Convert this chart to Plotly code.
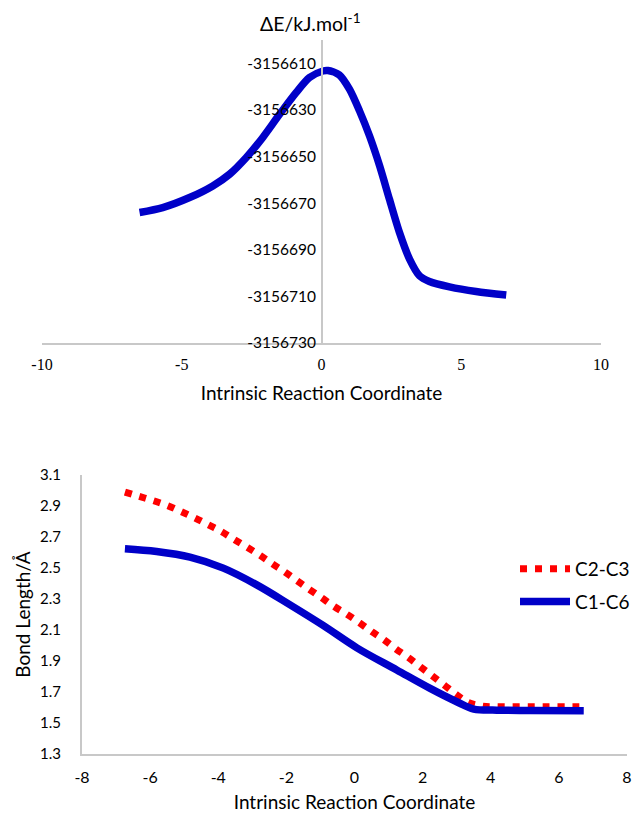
import plotly.graph_objects as go

# ---- Top chart: energy profile along IRC ----
irc_energy = [-6.51, -5.68, -4.72, -3.89, -3.29, -2.69, -2.10, -1.50, -0.91, -0.43, 0.05, 0.23, 0.64,
              1.0, 1.36, 1.72, 2.08, 2.43, 2.79, 3.15, 3.51, 3.86, 4.58, 5.53, 6.61]
energy = [-3156674.0, -3156671.9, -3156667.6, -3156662.6, -3156657.6, -3156650.4, -3156641.8,
          -3156631.9, -3156622.6, -3156616.1, -3156613.3, -3156613.1, -3156615.0, -3156621.1,
          -3156630.4, -3156641.2, -3156654.0, -3156668.3, -3156682.6, -3156694.0, -3156701.2,
          -3156703.6, -3156705.9, -3156707.9, -3156709.4]
energy_ticks = [-3156730, -3156710, -3156690, -3156670, -3156650, -3156630, -3156610]
top_x_ticks = [-10, -5, 0, 5, 10]

# ---- Bottom chart: bond lengths along IRC ----
irc_c2c3 = [-6.74, -6.32, -5.90, -5.48, -5.08, -4.68, -4.29, -3.90, -3.53, -3.14, -2.77, -2.41,
            -2.04, -1.68, -1.32, -0.96, -0.60, -0.22, 0.15, 0.51, 0.87, 1.22, 1.59, 1.93, 2.29,
            2.63, 2.98, 3.33, 3.76, 4.18, 5.3, 6.6]
c2c3 = [2.990, 2.962, 2.934, 2.902, 2.863, 2.822, 2.779, 2.734, 2.684, 2.632, 2.581, 2.527,
        2.473, 2.417, 2.361, 2.307, 2.252, 2.201, 2.146, 2.089, 2.036, 1.977, 1.921, 1.863,
        1.803, 1.745, 1.685, 1.633, 1.609, 1.605, 1.605, 1.605]
irc_c1c6 = [-6.74, -5.81, -4.83, -3.85, -2.87, -1.89, -0.91, 0.07, 1.24, 2.22, 3.0, 3.50, 4.18, 5.16, 6.73]
c1c6 = [2.624, 2.606, 2.570, 2.499, 2.391, 2.262, 2.128, 1.985, 1.842, 1.723, 1.637, 1.590, 1.583, 1.581, 1.579]
bond_ticks = [1.3, 1.5, 1.7, 1.9, 2.1, 2.3, 2.5, 2.7, 2.9, 3.1]
bottom_x_ticks = [-8, -6, -4, -2, 0, 2, 4, 6, 8]

W, H = 632, 816
axis_col = '#C8C8C8'
blue = '#0000C8'
sans = 'Lato, Open Sans, sans-serif'

fig = go.Figure()
fig.add_trace(go.Scatter(x=irc_energy, y=energy, mode='lines', xaxis='x', yaxis='y',
                         line=dict(color=blue, width=7.5, shape='spline', smoothing=0.8),
                         showlegend=False))
fig.add_trace(go.Scatter(x=irc_c2c3, y=c2c3, mode='lines', xaxis='x2', yaxis='y2', name='C2-C3',
                         legendgroup='a',
                         line=dict(color='#FF0000', width=7, shape='spline', dash='7px,8px')))
fig.add_trace(go.Scatter(x=irc_c1c6, y=c1c6, mode='lines', xaxis='x2', yaxis='y2', name='C1-C6',
                         legendgroup='b',
                         line=dict(color=blue, width=7.5, shape='spline')))

fig.update_layout(
    width=W, height=H, autosize=False,
    margin=dict(l=0, r=0, t=0, b=0, autoexpand=False),
    paper_bgcolor='white', plot_bgcolor='white',
    xaxis=dict(domain=[42 / W, 601 / W], range=[-10, 10], anchor='y', automargin=False,
               showline=True, linecolor=axis_col, linewidth=2, showgrid=False, zeroline=False,
               tickvals=top_x_ticks, ticktext=[str(v) for v in top_x_ticks], ticks='',
               ticklabelstandoff=6,
               tickfont=dict(family='Liberation Serif, serif', size=16, color='black'),
               title=dict(text='Intrinsic Reaction Coordinate', standoff=14,
                          font=dict(family=sans, size=19, color='black'))),
    yaxis=dict(domain=[1 - 343 / H, 1 - 40 / H], range=[-3156730, -3156600], anchor='free',
               position=322 / W, showline=True, linecolor=axis_col, linewidth=2, automargin=False,
               showgrid=False, zeroline=False, ticks='',
               tickvals=energy_ticks, ticktext=[str(v) for v in energy_ticks],
               ticklabelstandoff=2,
               tickfont=dict(family=sans, size=15.5, color='black')),
    xaxis2=dict(domain=[82 / W, 627 / W], range=[-8, 8], anchor='y2', automargin=False,
                showline=True, linecolor=axis_col, linewidth=2, showgrid=False, zeroline=False,
                tickvals=bottom_x_ticks, ticktext=[str(v) for v in bottom_x_ticks], ticks='',
                ticklabelstandoff=8,
                tickfont=dict(family=sans, size=16, color='black'),
                title=dict(text='Intrinsic Reaction Coordinate', standoff=10,
                           font=dict(family=sans, size=19, color='black'))),
    yaxis2=dict(domain=[1 - 754 / H, 1 - 475 / H], range=[1.3, 3.1], anchor='x2', automargin=False,
                showline=True, linecolor=axis_col, linewidth=2, showgrid=False, zeroline=False,
                tickvals=bond_ticks, ticktext=[f'{v:.1f}' for v in bond_ticks], ticks='',
                ticklabelstandoff=16,
                tickfont=dict(family=sans, size=15, color='black'),
                title=dict(text='Bond Length/Å', standoff=4,
                           font=dict(family=sans, size=19, color='black'))),
    legend=dict(x=515 / W, y=1 - 550 / H, xanchor='left', yanchor='top',
                xref='container', yref='container', tracegroupgap=5,
                bgcolor='rgba(0,0,0,0)', itemwidth=50,
                font=dict(family=sans, size=19, color='black')),
    annotations=[dict(text='ΔE/kJ.mol<sup>-1</sup>', xref='paper', yref='paper',
                      x=310 / W, y=1 - 22 / H, showarrow=False, xanchor='center', yanchor='middle',
                      font=dict(family=sans, size=19.5, color='black'))],
)

fig.write_html('out.html', config={'displayModeBar': False},
               post_script="document.body.style.margin='0px';")
